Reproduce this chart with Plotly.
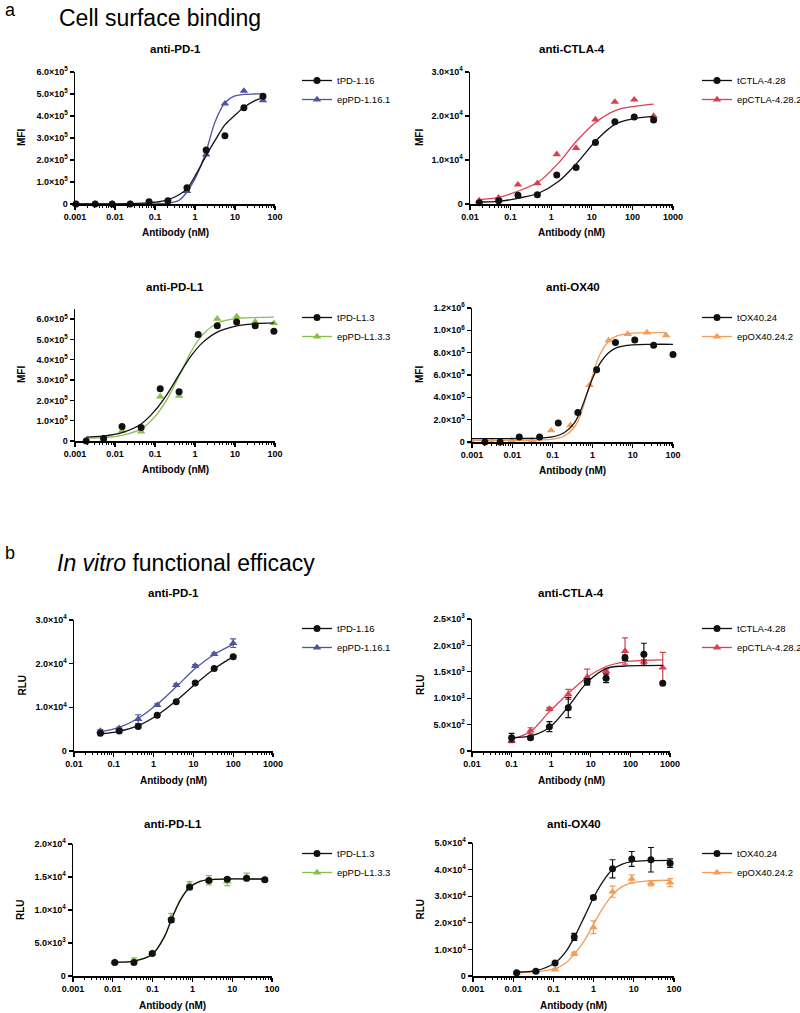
import plotly.graph_objects as go

W, H = 800, 1013
FONT = "Arial, 'Liberation Sans', Helvetica, sans-serif"

BLACK = "#111111"
BLUE = "#4f559c"
RED = "#d8404e"
GREEN = "#86c04c"
ORANGE = "#f19d5b"

# ---------------- a) Cell surface binding ----------------
# anti-PD-1
a1_conc = [0.00106, 0.0032, 0.0085, 0.024, 0.071, 0.21, 0.63, 1.9, 5.6, 16.7, 50]
a1_t_mfi = [0, 0, 200, 300, 10000, 15000, 74000, 245000, 310000, 437000, 490000]
a1_ep_mfi = [0, 0, 0, 0, 2000, 3000, 59000, 225000, 456000, 514000, 471000]
a1_fit_conc = [0.001, 0.01, 0.05, 0.1, 0.2, 0.4, 0.63, 1.1, 1.9, 3.2, 5.6, 9.5, 16.7, 30, 50]
a1_t_fit = [0, 500, 4000, 8000, 18000, 42000, 70000, 140000, 220000, 290000, 360000, 400000, 440000, 468000, 482000]
a1_ep_fit = [0, 0, 500, 1000, 3000, 17000, 55000, 130000, 240000, 375000, 460000, 490000, 498000, 500000, 500000]

# anti-CTLA-4
a2_conc = [0.0169, 0.0508, 0.152, 0.457, 1.37, 4.1, 12.3, 37, 111, 333]
a2_t_mfi = [300, 750, 2000, 2100, 6600, 8300, 14000, 18700, 19800, 19100]
a2_ep_mfi = [800, 1400, 4400, 4700, 11300, 12700, 19200, 23200, 23700, 20000]
a2_fit_conc = [0.0169, 0.05, 0.15, 0.5, 1.5, 4.4, 13, 39, 114, 333]
a2_t_fit = [450, 600, 1300, 2500, 5100, 9400, 14500, 18200, 19400, 19900]
a2_ep_fit = [1000, 1500, 2900, 5100, 9300, 14500, 18700, 21300, 22200, 22700]

# anti-PD-L1
a3_conc = [0.0019, 0.0052, 0.015, 0.045, 0.135, 0.4, 1.2, 3.6, 11, 32, 94]
a3_t_mfi = [0, 12000, 71000, 66000, 257000, 243000, 525000, 567000, 586000, 567000, 541000]
a3_ep_mfi = [0, 5000, 50000, 46000, 219000, 222000, 520000, 602000, 613000, 587000, 580000]
a3_fit_conc = [0.0019, 0.005, 0.015, 0.045, 0.1, 0.2, 0.4, 0.8, 1.5, 3.6, 11, 32, 94]
a3_t_fit = [19000, 24000, 41000, 84000, 150000, 230000, 327000, 419000, 482000, 536000, 567000, 578000, 582000]
a3_ep_fit = [14000, 17000, 28000, 60000, 120000, 205000, 320000, 440000, 520000, 580000, 603000, 608000, 610000]

# anti-OX40
a4_t_conc = [0.0021, 0.005, 0.015, 0.048, 0.14, 0.43, 1.26, 3.7, 11.2, 33, 100]
a4_t_mfi = [0, 0, 45000, 45000, 170000, 265000, 646000, 890000, 914000, 866000, 783000]
a4_ep_conc = [0.001, 0.0031, 0.0098, 0.031, 0.093, 0.28, 0.84, 2.5, 7.5, 22.5, 67]
a4_ep_mfi = [0, 0, 15000, 15000, 104000, 149000, 510000, 910000, 967000, 980000, 955000]
a4_t_fit_conc = [0.001, 0.01, 0.05, 0.1, 0.2, 0.35, 0.5, 0.75, 1.0, 1.5, 2.5, 4, 10, 30, 100]
a4_t_fit = [30000, 31000, 35000, 45000, 85000, 170000, 280000, 450000, 570000, 700000, 800000, 845000, 870000, 875000, 875000]
a4_ep_fit_conc = [0.001, 0.01, 0.05, 0.1, 0.2, 0.35, 0.5, 0.75, 1.0, 1.5, 2.5, 4, 10, 30, 67]
a4_ep_fit = [15000, 15000, 18000, 25000, 55000, 130000, 240000, 450000, 600000, 780000, 900000, 950000, 975000, 980000, 980000]

# ---------------- b) In vitro functional efficacy ----------------
# anti-PD-1
b1_conc = [0.046, 0.137, 0.41, 1.23, 3.7, 11.1, 33.3, 100]
b1_t_rlu = [4050, 4600, 5600, 8200, 11300, 15600, 18900, 21600]
b1_t_err = [200, 200, 250, 200, 250, 200, 250, 300]
b1_ep_rlu = [4600, 5200, 7300, 10500, 15100, 19500, 22200, 24700]
b1_ep_err = [300, 300, 1000, 300, 300, 300, 300, 1000]
b1_fit_conc = [0.046, 0.137, 0.41, 1.23, 3.7, 11.1, 33.3, 100]
b1_t_fit = [3900, 4500, 5800, 8200, 11500, 15300, 18800, 21600]
b1_ep_fit = [4400, 5400, 7500, 10700, 14700, 18900, 22100, 24400]

# anti-CTLA-4
b2_conc = [0.1, 0.3, 0.9, 2.7, 8.1, 24.3, 73, 219, 656]
b2_t_rlu = [253, 253, 461, 821, 1313, 1376, 1768, 1831, 1282]
b2_t_err = [80, 30, 95, 190, 60, 80, 50, 210, 20]
b2_ep_rlu = [196, 385, 795, 1073, 1401, 1515, 1894, 1692, 1578]
b2_ep_err = [40, 55, 30, 95, 150, 40, 250, 40, 290]
b2_fit_conc = [0.1, 0.3, 0.9, 2.7, 8.1, 24.3, 73, 219, 656]
b2_t_fit = [255, 285, 445, 840, 1300, 1560, 1610, 1618, 1620]
b2_ep_fit = [225, 370, 745, 1090, 1395, 1600, 1690, 1715, 1725]

# anti-PD-L1
b3_conc = [0.0112, 0.034, 0.098, 0.295, 0.85, 2.6, 7.5, 23, 66]
b3_t_rlu = [2030, 2030, 3400, 8480, 13450, 14470, 14670, 14820, 14570]
b3_t_err = [150, 150, 200, 300, 300, 300, 200, 200, 200]
b3_ep_rlu = [2150, 2400, 3500, 8900, 13900, 14500, 14300, 15000, 14600]
b3_ep_err = [200, 300, 200, 600, 400, 700, 600, 600, 300]
b3_fit_conc = [0.0112, 0.034, 0.098, 0.2, 0.295, 0.5, 0.85, 1.5, 2.6, 7.5, 23, 66]
b3_t_fit = [2100, 2250, 3300, 6000, 8500, 11500, 13400, 14300, 14600, 14700, 14700, 14700]
b3_ep_fit = [2100, 2250, 3300, 6000, 8550, 11600, 13500, 14350, 14600, 14700, 14700, 14700]

# anti-OX40
b4_conc = [0.0122, 0.0366, 0.11, 0.33, 0.99, 2.96, 8.9, 26.7, 80]
b4_t_rlu = [1260, 1760, 4900, 14700, 29500, 40300, 44000, 43700, 42400]
b4_t_err = [300, 300, 400, 1300, 600, 3400, 2800, 4600, 1600]
b4_ep_rlu = [1200, 1700, 2400, 8400, 18300, 31700, 36500, 34900, 35100]
b4_ep_err = [200, 200, 300, 600, 2400, 2100, 1500, 1000, 1500]
b4_fit_conc = [0.0122, 0.0366, 0.11, 0.2, 0.33, 0.6, 1.0, 1.7, 2.96, 5, 8.9, 26.7, 80]
b4_t_fit = [1500, 2000, 5000, 9000, 14500, 22500, 29500, 35500, 40000, 42000, 43000, 43400, 43500]
b4_ep_fit = [1300, 1600, 2800, 4800, 8200, 13500, 19500, 25500, 30500, 33500, 35000, 35800, 36000]

# ---------------- tick labels ----------------
xt_3 = [0.001, 0.01, 0.1, 1, 10, 100]
xt_3_text = ["0.001", "0.01", "0.1", "1", "10", "100"]
xt_2 = [0.01, 0.1, 1, 10, 100, 1000]
xt_2_text = ["0.01", "0.1", "1", "10", "100", "1000"]

def sci(m, e):
    return f"{m}×10<sup>{e}</sup>"

a1_yt = [0, 1e5, 2e5, 3e5, 4e5, 5e5, 6e5]
a1_yt_text = ["0", sci("1.0", 5), sci("2.0", 5), sci("3.0", 5), sci("4.0", 5), sci("5.0", 5), sci("6.0", 5)]
a2_yt = [0, 1e4, 2e4, 3e4]
a2_yt_text = ["0", sci("1.0", 4), sci("2.0", 4), sci("3.0", 4)]
a3_yt = a1_yt
a3_yt_text = a1_yt_text
a4_yt = [0, 2e5, 4e5, 6e5, 8e5, 1e6, 1.2e6]
a4_yt_text = ["0", sci("2.0", 5), sci("4.0", 5), sci("6.0", 5), sci("8.0", 5), sci("1.0", 6), sci("1.2", 6)]
b1_yt = [0, 1e4, 2e4, 3e4]
b1_yt_text = ["0", sci("1.0", 4), sci("2.0", 4), sci("3.0", 4)]
b2_yt = [0, 500, 1000, 1500, 2000, 2500]
b2_yt_text = ["0", sci("5.0", 2), sci("1.0", 3), sci("1.5", 3), sci("2.0", 3), sci("2.5", 3)]
b3_yt = [0, 5000, 10000, 15000, 20000]
b3_yt_text = ["0", sci("5.0", 3), sci("1.0", 4), sci("1.5", 4), sci("2.0", 4)]
b4_yt = [0, 1e4, 2e4, 3e4, 4e4, 5e4]
b4_yt_text = ["0", sci("1.0", 4), sci("2.0", 4), sci("3.0", 4), sci("4.0", 4), sci("5.0", 4)]

# ---------------- panel configuration (layout in px) ----------------
panels = [
    dict(title="anti-PD-1", ylab="MFI", xpx=(75, 275), ypx=(72, 204), xr=[-3, 2], yr=[0, 6e5],
         xt=(xt_3, xt_3_text), yt=(a1_yt, a1_yt_text), leg=(297, 66), title_y=49, ylab_x=22,
         series=[("epPD-1.16.1", BLUE, "triangle-up", a1_conc, a1_ep_mfi, None, a1_fit_conc, a1_ep_fit),
                 ("tPD-1.16", BLACK, "circle", a1_conc, a1_t_mfi, None, a1_fit_conc, a1_t_fit)]),
    dict(title="anti-CTLA-4", ylab="MFI", xpx=(470, 673), ypx=(72, 204), xr=[-2, 3], yr=[0, 3e4],
         xt=(xt_2, xt_2_text), yt=(a2_yt, a2_yt_text), leg=(697, 66), title_y=49, ylab_x=420,
         series=[("epCTLA-4.28.2", RED, "triangle-up", a2_conc, a2_ep_mfi, None, a2_fit_conc, a2_ep_fit),
                 ("tCTLA-4.28", BLACK, "circle", a2_conc, a2_t_mfi, None, a2_fit_conc, a2_t_fit)]),
    dict(title="anti-PD-L1", ylab="MFI", xpx=(75, 275), ypx=(309, 441), xr=[-3, 2], yr=[0, 6.5e5],
         xt=(xt_3, xt_3_text), yt=(a3_yt, a3_yt_text), leg=(297, 303), title_y=287, ylab_x=22,
         series=[("epPD-L1.3.3", GREEN, "triangle-up", a3_conc, a3_ep_mfi, None, a3_fit_conc, a3_ep_fit),
                 ("tPD-L1.3", BLACK, "circle", a3_conc, a3_t_mfi, None, a3_fit_conc, a3_t_fit)]),
    dict(title="anti-OX40", ylab="MFI", xpx=(472, 673), ypx=(308, 442), xr=[-3, 2], yr=[0, 1.2e6],
         xt=(xt_3, xt_3_text), yt=(a4_yt, a4_yt_text), leg=(697, 303), title_y=287, ylab_x=420,
         series=[("epOX40.24.2", ORANGE, "triangle-up", a4_ep_conc, a4_ep_mfi, None, a4_ep_fit_conc, a4_ep_fit),
                 ("tOX40.24", BLACK, "circle", a4_t_conc, a4_t_mfi, None, a4_t_fit_conc, a4_t_fit)]),
    dict(title="anti-PD-1", ylab="RLU", xpx=(74, 273), ypx=(620, 751), xr=[-2, 3], yr=[0, 3e4],
         xt=(xt_2, xt_2_text), yt=(b1_yt, b1_yt_text), leg=(297, 614), title_y=593, ylab_x=22,
         series=[("epPD-1.16.1", BLUE, "triangle-up", b1_conc, b1_ep_rlu, b1_ep_err, b1_fit_conc, b1_ep_fit),
                 ("tPD-1.16", BLACK, "circle", b1_conc, b1_t_rlu, b1_t_err, b1_fit_conc, b1_t_fit)]),
    dict(title="anti-CTLA-4", ylab="RLU", xpx=(472, 670), ypx=(619, 751), xr=[-2, 3], yr=[0, 2500],
         xt=(xt_2, xt_2_text), yt=(b2_yt, b2_yt_text), leg=(697, 614), title_y=593, ylab_x=420,
         series=[("epCTLA-4.28.2", RED, "triangle-up", b2_conc, b2_ep_rlu, b2_ep_err, b2_fit_conc, b2_ep_fit),
                 ("tCTLA-4.28", BLACK, "circle", b2_conc, b2_t_rlu, b2_t_err, b2_fit_conc, b2_t_fit)]),
    dict(title="anti-PD-L1", ylab="RLU", xpx=(73, 272), ypx=(844, 976), xr=[-3, 2], yr=[0, 2e4],
         xt=(xt_3, xt_3_text), yt=(b3_yt, b3_yt_text), leg=(297, 839), title_y=824, ylab_x=20,
         series=[("epPD-L1.3.3", GREEN, "triangle-up", b3_conc, b3_ep_rlu, b3_ep_err, b3_fit_conc, b3_ep_fit),
                 ("tPD-L1.3", BLACK, "circle", b3_conc, b3_t_rlu, b3_t_err, b3_fit_conc, b3_t_fit)]),
    dict(title="anti-OX40", ylab="RLU", xpx=(473, 674), ypx=(843, 976), xr=[-3, 2], yr=[0, 5e4],
         xt=(xt_3, xt_3_text), yt=(b4_yt, b4_yt_text), leg=(697, 839), title_y=824, ylab_x=420,
         series=[("epOX40.24.2", ORANGE, "triangle-up", b4_conc, b4_ep_rlu, b4_ep_err, b4_fit_conc, b4_ep_fit),
                 ("tOX40.24", BLACK, "circle", b4_conc, b4_t_rlu, b4_t_err, b4_fit_conc, b4_t_fit)]),
]

fig = go.Figure()
layout = dict(template="none", width=W, height=H, margin=dict(l=0, r=0, t=0, b=0, autoexpand=False),
              paper_bgcolor="white", plot_bgcolor="white",
              font=dict(family=FONT, color="black"), annotations=[])

tickfont = dict(family=FONT, size=9, color="black", weight="bold")

for i, p in enumerate(panels):
    n = i + 1
    xs = "" if n == 1 else str(n)
    xa, ya = "x" + xs, "y" + xs
    lg = "legend" if n == 1 else "legend" + str(n)
    x0, x1 = p["xpx"]
    y0, y1 = p["ypx"]
    layout["xaxis" + xs] = dict(
        type="log", range=p["xr"], domain=[x0 / W, x1 / W], anchor=ya, automargin=False,
        showgrid=False, zeroline=False, showline=True, linecolor="black", linewidth=1.5,
        ticks="outside", ticklen=4, tickwidth=1.3, tickcolor="black",
        tickvals=p["xt"][0], ticktext=p["xt"][1], tickfont=tickfont,
        minor=dict(ticks="outside", ticklen=2.5, tickwidth=1, tickcolor="black", dtick="D1", showgrid=False),
    )
    layout["yaxis" + xs] = dict(
        range=p["yr"], domain=[1 - y1 / H, 1 - y0 / H], anchor=xa, automargin=False,
        showgrid=False, zeroline=False, showline=True, linecolor="black", linewidth=1.5,
        ticks="outside", ticklen=4, tickwidth=1.3, tickcolor="black",
        tickvals=p["yt"][0], ticktext=p["yt"][1], tickfont=tickfont,
    )
    layout[lg] = dict(x=p["leg"][0] / W, y=1 - p["leg"][1] / H, xanchor="left", yanchor="top",
                      font=dict(family=FONT, size=9.5, color="black"), bgcolor="rgba(0,0,0,0)",
                      itemwidth=30, tracegroupgap=0, traceorder="normal", borderwidth=0)
    for (label, color, sym, x, y, err, fx, fy) in p["series"]:
        fig.add_trace(go.Scatter(x=fx, y=fy, mode="lines", line=dict(color=color, width=1.3, shape="spline", smoothing=1.0),
                                 xaxis=xa, yaxis=ya, showlegend=False, hoverinfo="skip"))
        ey = dict(type="data", array=err, color=color, thickness=1.2, width=3, visible=True) if err else None
        fig.add_trace(go.Scatter(x=x, y=y, mode="markers",
                                 marker=dict(symbol=sym, size=7 if sym == "circle" else 7.5, color=color,
                                             line=dict(width=0)),
                                 error_y=ey, cliponaxis=False,
                                 xaxis=xa, yaxis=ya, showlegend=False))
    for (label, color, sym, x, y, err, fx, fy) in reversed(p["series"]):
        fig.add_trace(go.Scatter(x=[None], y=[None], mode="lines+markers", name=label,
                                 line=dict(color=color, width=1.3),
                                 marker=dict(symbol=sym, size=7 if sym == "circle" else 7.5, color=color),
                                 xaxis=xa, yaxis=ya, legend=lg, showlegend=True))
    cx = (x0 + x1) / 2
    layout["annotations"].append(dict(text="<b>%s</b>" % p["title"], x=cx / W, y=1 - p["title_y"] / H,
                                      xref="paper", yref="paper", showarrow=False, xanchor="center", yanchor="middle",
                                      font=dict(family=FONT, size=11.5, color="black")))
    layout["annotations"].append(dict(text="<b>Antibody (nM)</b>", x=cx / W, y=1 - (y1 + 29) / H,
                                      xref="paper", yref="paper", showarrow=False, xanchor="center", yanchor="middle",
                                      font=dict(family=FONT, size=10, color="black")))
    layout["annotations"].append(dict(text="<b>%s</b>" % p["ylab"], x=p["ylab_x"] / W, y=1 - (y0 + y1) / 2 / H,
                                      xref="paper", yref="paper", showarrow=False, xanchor="center", yanchor="middle",
                                      textangle=-90, font=dict(family=FONT, size=10, color="black")))

for txt, x, y, size in [("a", 3, 10, 18), ("Cell surface binding", 57, 18, 23),
                        ("b", 3, 553, 18), ("<i>In vitro</i> functional efficacy", 55, 563, 23)]:
    layout["annotations"].append(dict(text=txt, x=x / W, y=1 - y / H, xref="paper", yref="paper",
                                      showarrow=False, xanchor="left", yanchor="middle",
                                      font=dict(family=FONT, size=size, color="black")))

fig.update_layout(**layout)
fig.write_html("out.html", config={"displayModeBar": False, "staticPlot": True},
               post_script="document.body.style.margin='0px';document.body.style.overflow='hidden';")
